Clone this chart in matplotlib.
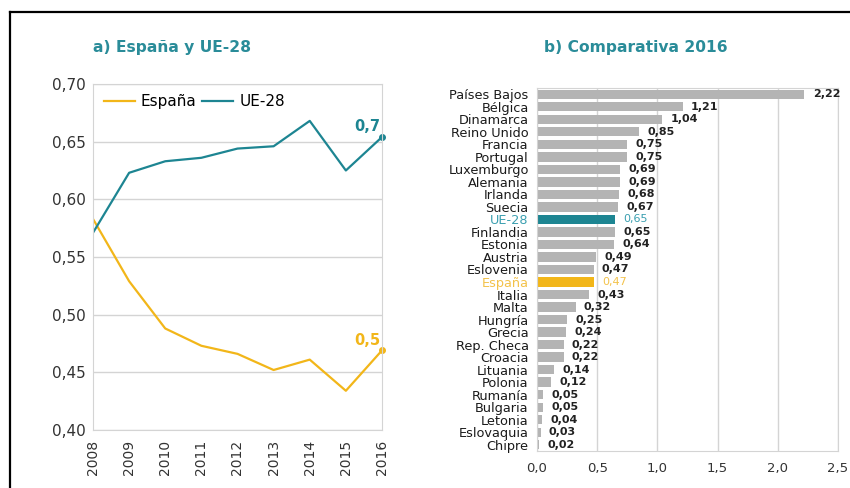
import matplotlib
matplotlib.use("Agg")
import matplotlib.pyplot as plt
from matplotlib.lines import Line2D

plt.rcParams["font.family"] = ["DejaVu Sans"]

# -----------------------------
# Data
# -----------------------------
years = [2008, 2009, 2010, 2011, 2012, 2013, 2014, 2015, 2016]
espana = [0.583, 0.529, 0.488, 0.473, 0.466, 0.452, 0.461, 0.434, 0.469]
ue28 = [0.571, 0.623, 0.633, 0.636, 0.644, 0.646, 0.668, 0.625, 0.654]

countries = ["Países Bajos", "Bélgica", "Dinamarca", "Reino Unido", "Francia",
             "Portugal", "Luxemburgo", "Alemania", "Irlanda", "Suecia",
             "UE-28", "Finlandia", "Estonia", "Austria", "Eslovenia",
             "España", "Italia", "Malta", "Hungría", "Grecia",
             "Rep. Checa", "Croacia", "Lituania", "Polonia", "Rumanía",
             "Bulgaria", "Letonia", "Eslovaquia", "Chipre"]
values_2016 = [2.22, 1.21, 1.04, 0.85, 0.75, 0.75, 0.69, 0.69, 0.68, 0.67,
               0.65, 0.65, 0.64, 0.49, 0.47, 0.47, 0.43, 0.32, 0.25, 0.24,
               0.22, 0.22, 0.14, 0.12, 0.05, 0.05, 0.04, 0.03, 0.02]

# colours
TEAL = "#1d8592"
TEAL_TXT = "#3a9fb0"
YELLOW = "#f2b619"
YELLOW_TXT = "#f3c24a"
GREY = "#b4b4b4"
TITLE = "#2a8c99"
GRID = "#d4d4d4"

def fmt(v, nd):
    return f"{v:.{nd}f}".replace(".", ",")

fig = plt.figure(figsize=(8.5, 4.88), dpi=100)

# -----------------------------
# a) line chart
# -----------------------------
ax1 = fig.add_axes([0.1094, 0.1189, 0.34, 0.709])
ax1.plot(years, espana, color=YELLOW, lw=1.6, label="España")
ax1.plot(years, ue28, color=TEAL, lw=1.6, label="UE-28")
ax1.plot(years[-1], espana[-1], "o", color=YELLOW, ms=4, clip_on=False)
ax1.plot(years[-1], ue28[-1], "o", color=TEAL, ms=4, clip_on=False)
ax1.annotate(fmt(ue28[-1], 1), (years[-1], ue28[-1]), xytext=(-1, 2),
             textcoords="offset points", ha="right", va="bottom",
             color=TEAL, fontsize=10.5, fontweight="bold")
ax1.annotate(fmt(espana[-1], 1), (years[-1], espana[-1]), xytext=(-1, 2),
             textcoords="offset points", ha="right", va="bottom",
             color=YELLOW, fontsize=10.5, fontweight="bold")

ax1.set_xlim(2008, 2016)
ax1.set_ylim(0.40, 0.70)
ax1.set_xticks(years)
ax1.set_xticklabels([str(y) for y in years], rotation=90, fontsize=10, color="#333333")
yt = [0.40, 0.45, 0.50, 0.55, 0.60, 0.65, 0.70]
ax1.set_yticks(yt)
ax1.set_yticklabels([fmt(v, 2) for v in yt], fontsize=11, color="#333333")
ax1.tick_params(length=0, pad=5)
ax1.tick_params(axis="x", pad=7)
ax1.grid(axis="y", color=GRID, lw=1)
ax1.set_axisbelow(True)
for s in ax1.spines.values():
    s.set_color(GRID)
ax1.legend(loc="center left", bbox_to_anchor=(0.038, 0.948), ncol=2,
           frameon=False, fontsize=11, handlelength=2.0, handletextpad=0.4,
           columnspacing=0.4, borderaxespad=0, borderpad=0)
fig.text(0.1094, 0.903, "a) España y UE-28", color=TITLE, fontsize=11.2,
         fontweight="bold", ha="left", va="center")

# -----------------------------
# b) bar chart
# -----------------------------
ax2 = fig.add_axes([0.6318, 0.0758, 0.3541, 0.7439])
pos = list(range(len(countries)))[::-1]
colors = []
for c in countries:
    if c == "UE-28":
        colors.append(TEAL)
    elif c == "España":
        colors.append(YELLOW)
    else:
        colors.append(GREY)
ax2.barh(pos, values_2016, height=0.75, color=colors, zorder=2)
ax2.set_ylim(-0.5, len(countries) - 0.5)
ax2.set_xlim(0, 2.5)
ax2.set_yticks(pos)
ax2.set_yticklabels(countries, fontsize=9.3)
for lbl, c in zip(ax2.get_yticklabels(), countries):
    if c == "UE-28":
        lbl.set_color(TEAL_TXT)
    elif c == "España":
        lbl.set_color(YELLOW_TXT)
    else:
        lbl.set_color("#1a1a1a")
for p, v, c in zip(pos, values_2016, countries):
    if c == "UE-28":
        col, w = TEAL_TXT, "normal"
    elif c == "España":
        col, w = YELLOW_TXT, "normal"
    else:
        col, w = "#222222", "bold"
    ax2.annotate(fmt(v, 2), (v, p), xytext=(6, 0), textcoords="offset points",
                 ha="left", va="center", fontsize=8, color=col, fontweight=w)
xt = [0.0, 0.5, 1.0, 1.5, 2.0, 2.5]
ax2.set_xticks(xt)
ax2.set_xticklabels([fmt(v, 1) for v in xt], fontsize=9.5, color="#333333")
ax2.tick_params(length=0)
ax2.tick_params(axis="x", pad=8)
ax2.tick_params(axis="y", pad=6)
ax2.grid(axis="x", color=GRID, lw=1, zorder=0)
ax2.set_axisbelow(True)
for s in ax2.spines.values():
    s.set_color(GRID)
fig.text(0.7476, 0.903, "b) Comparativa 2016", color=TITLE, fontsize=11.2,
         fontweight="bold", ha="center", va="center")

# frame lines
fig.add_artist(Line2D([10 / 850, 1.0], [1 - 12 / 488, 1 - 12 / 488],
                      color="black", lw=1.6, transform=fig.transFigure))
fig.add_artist(Line2D([10 / 850, 10 / 850], [0.0, 1 - 12 / 488],
                      color="black", lw=1.6, transform=fig.transFigure))

fig.savefig("out.png", dpi=100)
